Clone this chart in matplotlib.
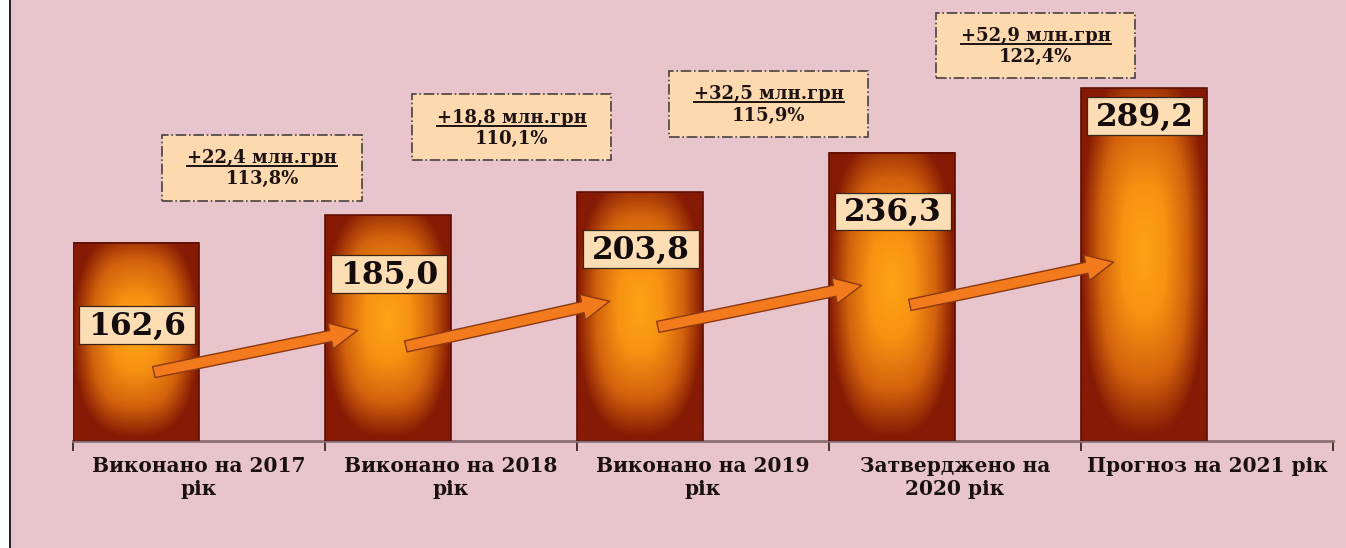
import numpy as np
import matplotlib.pyplot as plt
from matplotlib.colors import LinearSegmentedColormap
from matplotlib.patches import Rectangle, FancyArrowPatch
from matplotlib.lines import Line2D

# data
categories = ['Виконано на 2017\nрік', 'Виконано на 2018\nрік', 'Виконано на 2019\nрік',
              'Затверджено на\n2020 рік', 'Прогноз на 2021 рік']
values = [162.6, 185.0, 203.8, 236.3, 289.2]
value_labels = ['162,6', '185,0', '203,8', '236,3', '289,2']
growth_abs = ['+22,4 млн.грн', '+18,8 млн.грн', '+32,5 млн.грн', '+52,9 млн.грн']
growth_pct = ['113,8%', '110,1%', '115,9%', '122,4%']

# layout (data units)
label_y = [95, 137, 157, 188, 266]
note_x = [0.75, 1.74, 2.76, 3.82]
note_y = [224, 257, 276, 324]
arrow_y0 = [56, 77, 93, 111]
arrow_y1 = [91, 115, 128, 147]

serif = 'DejaVu Serif'
bg = '#E8C5CD'

fig = plt.figure(figsize=(13.46, 5.48), dpi=100, facecolor=bg)
# white strip + black rule on left edge
fig.patches.append(Rectangle((0, 0), 9 / 1346, 1, transform=fig.transFigure, fc='white', ec='none'))
fig.lines.append(Line2D([9.5 / 1346] * 2, [0, 1], transform=fig.transFigure, color='black', lw=1.2))

ax = fig.add_axes([73 / 1346, 107 / 548, 1260 / 1346, 439.4 / 548])
ax.set_facecolor('none')

cmap = LinearSegmentedColormap.from_list(
    'bar', [(0, '#FFA414'), (0.35, '#F79212'), (0.7, '#D2620C'), (1, '#861A04')])
gx, gy = np.meshgrid(np.linspace(-1, 1, 120), np.linspace(-1, 1, 300))
p = 2.6
dist = np.clip((np.abs(gx) ** p + (np.abs(gy - 0.08) / 1.05) ** p) ** (1 / p), 0, 1)

width = 0.5
for i, v in enumerate(values):
    ax.imshow(dist, cmap=cmap, vmin=0, vmax=1, extent=[i, i + width, 0, v],
              origin='lower', aspect='auto', zorder=2, interpolation='bilinear')
    ax.add_patch(Rectangle((i, 0), width, v, fc='none', ec='#5E0E02', lw=1.2, zorder=3))

# arrows between bars
for i in range(len(values) - 1):
    arr = FancyArrowPatch((i + 0.31, arrow_y0[i]), (i + 1.14, arrow_y1[i]),
                          arrowstyle='simple,head_length=1.1,head_width=1.05,tail_width=0.45',
                          mutation_scale=18, fc='#F47A1E', ec='#8A3A12', lw=1.0, zorder=5)
    ax.add_patch(arr)

# value label boxes
for i, (ly, txt) in enumerate(zip(label_y, value_labels)):
    cx = i + 0.255
    ax.add_patch(Rectangle((cx - 0.23, ly - 15.5), 0.46, 31, fc='#FCDDB4', ec='#3A2418',
                           lw=0.9, zorder=6))
    ax.text(cx, ly - 1, txt, ha='center', va='center', fontsize=22.5, fontweight='bold',
            family=serif, color='#140C0C', zorder=7)

# growth notes
underline = []
for i in range(len(growth_abs)):
    nx, ny = note_x[i], note_y[i]
    ax.add_patch(Rectangle((nx - 0.395, ny - 27), 0.79, 54, fc='#FDD9B0', ec='#4A4040',
                           lw=1.2, ls='-.', zorder=6, clip_on=False))
    t1 = ax.text(nx, ny + 8, growth_abs[i], ha='center', va='center', fontsize=13,
                 fontweight='bold', family=serif, color='#1E1212', zorder=7)
    ax.text(nx, ny - 9.5, growth_pct[i], ha='center', va='center', fontsize=13,
            fontweight='bold', family=serif, color='#1E1212', zorder=7)
    underline.append(t1)

ax.set_xlim(0, 5)
ax.set_ylim(0, 360)
for s in ['top', 'right', 'left']:
    ax.spines[s].set_visible(False)
ax.spines['bottom'].set_color('#8C6E74')
ax.spines['bottom'].set_linewidth(2)
ax.set_yticks([])
ax.set_xticks(range(6))
ax.set_xticklabels([])
ax.tick_params(axis='x', which='major', length=7, width=1.2, color='#2A1A1A', direction='out')
ax.set_xticks(np.arange(5) + 0.5, minor=True)
ax.set_xticklabels(categories, minor=True, fontsize=14.5, fontweight='bold', family=serif,
                   color='#1A1010', linespacing=1.2)
ax.tick_params(axis='x', which='minor', length=0, pad=11)

# underline first line of notes
fig.canvas.draw()
r = fig.canvas.get_renderer()
for t in underline:
    bb = t.get_window_extent(r)
    y = bb.y0 + 1
    fig.lines.append(Line2D([bb.x0 / 1346, bb.x1 / 1346], [y / 548, y / 548],
                            transform=fig.transFigure, color='#1E1212', lw=1.4, zorder=8))

fig.savefig('out.png', dpi=100, facecolor=bg)
